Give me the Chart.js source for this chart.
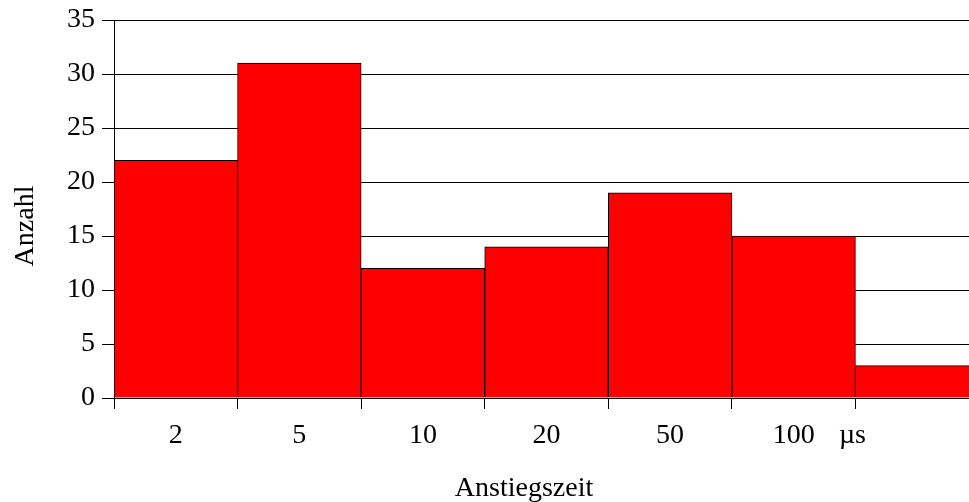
<!DOCTYPE html>
<html>
<head>
<meta charset="utf-8">
<script src="https://cdn.jsdelivr.net/npm/chart.js@4.4.1/dist/chart.umd.min.js"></script>
<style>
  html, body { margin: 0; padding: 0; background: #fff; overflow: hidden; }
  #wrap { position: relative; width: 979px; height: 502px; }
</style>
</head>
<body>
<div id="wrap"><canvas id="c"></canvas></div>
<script>
const categories = ['2', '5', '10', '20', '50', '100', ''];
const counts = [22, 31, 12, 14, 19, 15, 3];
const yTicks = [0, 5, 10, 15, 20, 25, 30, 35];
const unitLabel = 'µs';
const xTitle = 'Anstiegszeit';
const yTitle = 'Anzahl';

const FONT = '"Liberation Serif", "Times New Roman", serif';

const textPlugin = {
  id: 'texts',
  afterDraw(chart) {
    const ctx = chart.ctx;
    const xs = chart.scales.x;
    ctx.save();
    ctx.fillStyle = '#000';
    ctx.font = '28px ' + FONT;
    ctx.textBaseline = 'alphabetic';
    ctx.textAlign = 'center';
    // unit label at the boundary between 100 and the last bin
    ctx.fillText(unitLabel, xs.getPixelForValue(5.5) - 3, 443);
    // x-axis title
    ctx.fillText(xTitle, 524, 496);
    // y-axis title
    ctx.translate(33, 226);
    ctx.rotate(-Math.PI / 2);
    ctx.fillText(yTitle, 0, 0);
    ctx.restore();
  }
};

new Chart(document.getElementById('c'), {
  type: 'bar',
  data: {
    labels: categories,
    datasets: [{
      data: counts,
      backgroundColor: '#ff0000',
      borderColor: '#000000',
      borderWidth: 1,
      barPercentage: 1.0,
      categoryPercentage: 1.0
    }]
  },
  options: {
    responsive: true,
    maintainAspectRatio: false,
    animation: false,
    devicePixelRatio: 1,
    layout: { padding: { top: 20, right: 0, left: 0, bottom: 0 } },
    plugins: { legend: { display: false }, tooltip: { enabled: false } },
    scales: {
      x: {
        type: 'category',
        offset: true,
        grid: {
          display: true,
          drawOnChartArea: false,
          drawTicks: true,
          tickLength: 11,
          color: '#000',
          offset: true
        },
        border: { display: true, color: '#000', width: 1 },
        ticks: {
          color: '#000',
          font: { family: FONT, size: 28 },
          padding: 10,
          maxRotation: 0,
          autoSkip: false
        },
        afterFit(scale) { scale.height = 104; scale.paddingLeft = 0; scale.paddingRight = 0; }
      },
      y: {
        min: 0,
        max: 35,
        afterBuildTicks(scale) { scale.ticks = yTicks.map(v => ({ value: v })); },
        grid: {
          color: '#000',
          tickLength: 12,
          drawTicks: true
        },
        border: { display: true, color: '#000', width: 1 },
        ticks: {
          color: '#000',
          font: { family: FONT, size: 28 },
          padding: 7
        },
        afterFit(scale) { scale.width = 114; scale.paddingTop = 0; scale.paddingBottom = 0; }
      }
    }
  },
  plugins: [textPlugin]
});
</script>
</body>
</html>
